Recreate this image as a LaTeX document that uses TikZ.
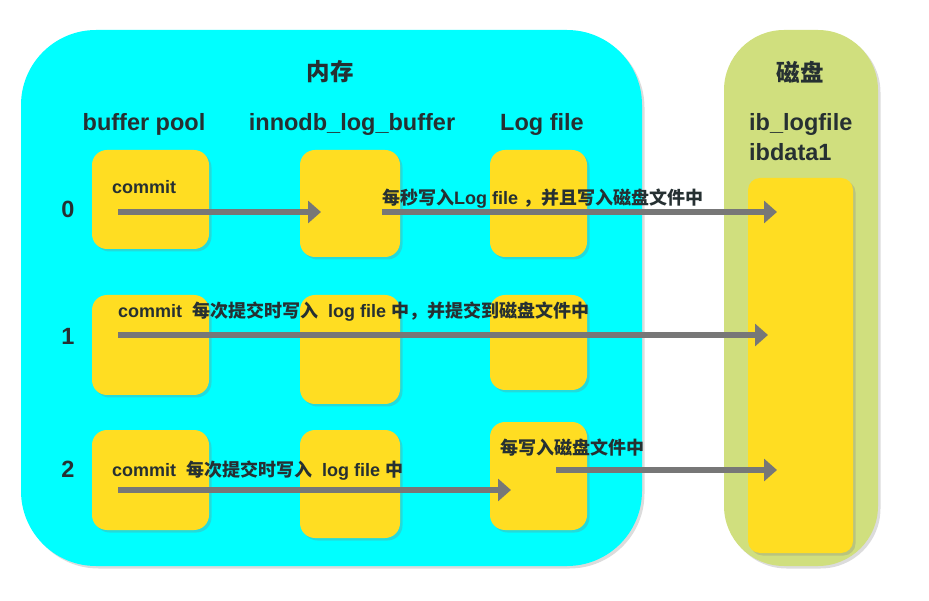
\documentclass[tikz,border=0pt]{standalone}
\usepackage{fontspec}
\setmainfont{Liberation Sans}
\newfontfamily\cjkfont{Noto Sans CJK SC}
\usetikzlibrary{arrows.meta,shadows}
\definecolor{memcyan}{HTML}{00FFFF}
\definecolor{diskgreen}{HTML}{D0DF7E}
\definecolor{boxyellow}{HTML}{FFDD22}
\definecolor{arrowgray}{HTML}{777777}
\definecolor{textdark}{HTML}{263032}
\newcommand{\zh}[1]{{\cjkfont\bfseries #1}}
\tikzset{
 softshadow/.style={drop shadow={shadow xshift=2.5pt,shadow yshift=-2.5pt,opacity=.28}},
 area/.style={inner sep=0,softshadow},
 blk/.style={fill=boxyellow,rounded corners=15pt,inner sep=0,softshadow},
 flow/.style={draw=arrowgray,line width=5.5pt,-{Triangle[length=13pt,width=22pt]}},
 head/.style={font=\fontsize{23.5}{26}\selectfont\bfseries,text=textdark,inner sep=0},
 note/.style={font=\fontsize{18}{20}\selectfont\bfseries,text=textdark,inner sep=0,anchor=base west},
}
\begin{document}
\begin{tikzpicture}[x=1pt,y=-1pt]
 \useasboundingbox (0,0) rectangle (929,601);
 \node[area,fill=memcyan,rounded corners=75pt,minimum width=621pt,minimum height=536pt] (mem) at (331.5,298) {};
 \node[area,fill=diskgreen,rounded corners=60pt,minimum width=154pt,minimum height=536pt] (disk) at (801,298) {};
 \node[head] (memtitle) at (330,72) {\zh{内存}};
 \node[head] (disktitle) at (800,72) {\zh{磁盘}};
 \node[head] (hbp) at (144,124) {buffer pool};
 \node[head] (hilb) at (352,124) {innodb\_log\_buffer};
 \node[head] (hlf) at (542,124) {Log file};
 \node[head,anchor=west] (hib) at (749,124) {ib\_logfile};
 \node[head,anchor=west] (hdata) at (749,152) {ibdata1};
 \node[head] (r0) at (68,209) {0};
 \node[head] (r1) at (68,336) {1};
 \node[head] (r2) at (68,469) {2};
 \node[blk,minimum width=117pt,minimum height=99pt] (bp0) at (150.5,199.5) {};
 \node[blk,minimum width=100pt,minimum height=107pt] (ilb0) at (350,203.5) {};
 \node[blk,minimum width=97pt,minimum height=107pt] (lf0) at (538.5,203.5) {};
 \node[blk,minimum width=117pt,minimum height=100pt] (bp1) at (150.5,345) {};
 \node[blk,minimum width=100pt,minimum height=109pt] (ilb1) at (350,349.5) {};
 \node[blk,minimum width=97pt,minimum height=95pt] (lf1) at (538.5,342.5) {};
 \node[blk,minimum width=117pt,minimum height=100pt] (bp2) at (150.5,480) {};
 \node[blk,minimum width=100pt,minimum height=108pt] (ilb2) at (350,484) {};
 \node[blk,minimum width=97pt,minimum height=108pt] (lf2) at (538.5,476) {};
 \node[blk,rounded corners=12pt,minimum width=105pt,minimum height=375pt] (file) at (800.5,365.5) {};
 \coordinate (s0) at (118,212);
 \coordinate (e0) at (321,212);
 \coordinate (s0b) at (382,212);
 \coordinate (e0b) at (777,212);
 \coordinate (s1) at (118,335);
 \coordinate (e1) at (768,335);
 \coordinate (s2) at (118,490);
 \coordinate (e2) at (511,490);
 \coordinate (s2b) at (556,470);
 \coordinate (e2b) at (777,470);
 \draw[flow] (s0) -- (e0);
 \draw[flow] (s0b) -- (e0b);
 \draw[flow] (s1) -- (e1);
 \draw[flow] (s2) -- (e2);
 \draw[flow] (s2b) -- (e2b);
 \node[note] (c0) at (112,194) {commit};
 \node[note] (t0) at (382,205) {\zh{每秒写入}Log file \zh{，并且写入磁盘文件中}};
 \node[note] (t1) at (118,318) {commit\ \ \zh{每次提交时写入}\ \ log file \zh{中，并提交到磁盘文件中}};
 \node[note] (t2) at (112,476) {commit\ \ \zh{每次提交时写入}\ \ log file \zh{中}};
 \node[note] (t2b) at (500,454) {\zh{每写入磁盘文件中}};
\end{tikzpicture}
\end{document}
